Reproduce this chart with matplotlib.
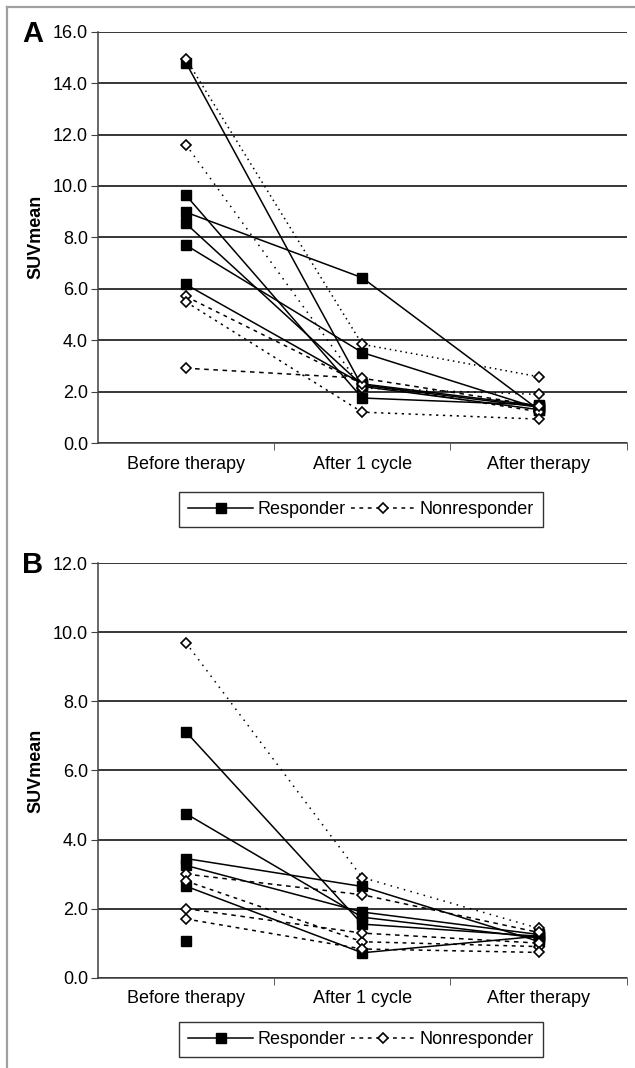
import numpy as np
import matplotlib
matplotlib.use("Agg")
import matplotlib.pyplot as plt
from matplotlib.lines import Line2D

plt.rcParams['font.family'] = ['Liberation Sans', 'DejaVu Sans']

categories = ["Before therapy", "After 1 cycle", "After therapy"]

# panel A (SUVmean per patient: before, after 1 cycle, after therapy)
a_responder = [
    [14.80, 2.20, 1.30],
    [8.98, 6.43, 1.30],
    [9.64, 1.75, 1.48],
    [8.54, 2.25, 1.40],
    [7.70, 3.52, 1.35],
    [6.17, 2.30, 1.45],
]
a_nonresponder = [
    [14.95, 3.84, 2.58],
    [11.61, 2.14, 1.89],
    [5.70, 2.30, 1.22],
    [5.49, 1.20, 0.93],
    [2.91, 2.52, 1.45],
]
a_nonresp_styles = [(0, (1, 2.5)), (0, (1, 3.5)), (0, (2.5, 3)), (0, (1.5, 3)), (0, (3, 3))]

# panel B
b_responder = [
    [7.12, 1.55, 1.20],
    [4.75, 1.75, 1.15],
    [3.45, 2.64, 1.05],
    [3.25, 1.90, 1.25],
    [2.65, 0.72, 1.20],
    [1.05, np.nan, np.nan],
]
b_nonresponder = [
    [9.70, 2.90, 1.43],
    [3.00, 2.40, 1.31],
    [2.80, 1.04, 0.90],
    [2.00, 1.29, 1.00],
    [1.70, 0.83, 0.73],
]
b_nonresp_styles = [(0, (1, 3.5)), (0, (3, 3)), (0, (2.5, 3)), (0, (3, 3)), (0, (2.5, 3))]

fig = plt.figure(figsize=(6.35, 10.68), dpi=100)
FS = 13


def draw_panel(rect, resp, nonresp, styles, ymax, letter, legend_y):
    ax = fig.add_axes(rect)
    x = np.arange(len(categories))
    for row in resp:
        ax.plot(x, row, color='black', lw=1.1, marker='s', markersize=6.5,
                markerfacecolor='black', markeredgecolor='black', zorder=3)
    for row, ls in zip(nonresp, styles):
        ax.plot(x, row, color='black', lw=1.1, linestyle=ls, marker='D', markersize=5.5,
                markerfacecolor='white', markeredgecolor='black', markeredgewidth=1.2, zorder=4)
    ax.set_xlim(-0.5, 2.5)
    ax.set_ylim(0, ymax)
    ax.set_yticks(np.arange(0, ymax + 0.1, 2))
    ax.set_yticklabels(["%.1f" % v for v in np.arange(0, ymax + 0.1, 2)], fontsize=FS)
    ax.yaxis.grid(True, color='black', lw=1.1)
    ax.set_axisbelow(True)
    ax.set_xticks(x)
    ax.set_xticklabels(categories, fontsize=FS)
    ax.set_xticks([0.5, 1.5, 2.5], minor=True)
    ax.tick_params(axis='x', which='major', length=0, pad=9)
    ax.tick_params(axis='x', which='minor', length=5, direction='out', color='#404040')
    ax.tick_params(axis='y', length=5, direction='out', color='#404040', pad=2)
    for s in ['top', 'right']:
        ax.spines[s].set_visible(False)
    for s in ['left', 'bottom']:
        ax.spines[s].set_color('#404040')
        ax.spines[s].set_linewidth(1.1)
    ax.set_ylabel("SUVmean", fontsize=FS, fontweight='bold', labelpad=6)
    ax.text(-0.143, 0.995, letter, transform=ax.transAxes, fontsize=21, fontweight='bold',
            ha='left', va='center')
    handles = [
        Line2D([], [], color='black', lw=1.1, marker='s', markersize=6.5),
        Line2D([], [], color='black', lw=1.1, linestyle=(0, (2.5, 3)), marker='D', markersize=5.5,
               markerfacecolor='white', markeredgewidth=1.2),
    ]
    leg = fig.legend(handles, ["Responder", "Nonresponder"], loc='center',
                     bbox_to_anchor=(0.5685, legend_y), ncol=2, fontsize=FS,
                     frameon=True, fancybox=False, edgecolor='black', handlelength=3.6,
                     columnspacing=0.3, handletextpad=0.2, borderpad=0.5, borderaxespad=0)
    leg.get_frame().set_linewidth(1.0)
    return ax


draw_panel([0.1539, 0.5852, 0.833, 0.3851], a_responder, a_nonresponder, a_nonresp_styles,
           16, "A", 0.5225)
draw_panel([0.1539, 0.0846, 0.833, 0.388], b_responder, b_nonresponder, b_nonresp_styles,
           12, "B", 0.0265)

# outer frame (top and left edges)
fig.add_artist(Line2D([0.011, 1.0], [0.9935, 0.9935], color='#a0a0a0', lw=1.6))
fig.add_artist(Line2D([0.011, 0.011], [0.0, 0.9935], color='#a0a0a0', lw=1.6))

fig.savefig("out.png", dpi=100)
